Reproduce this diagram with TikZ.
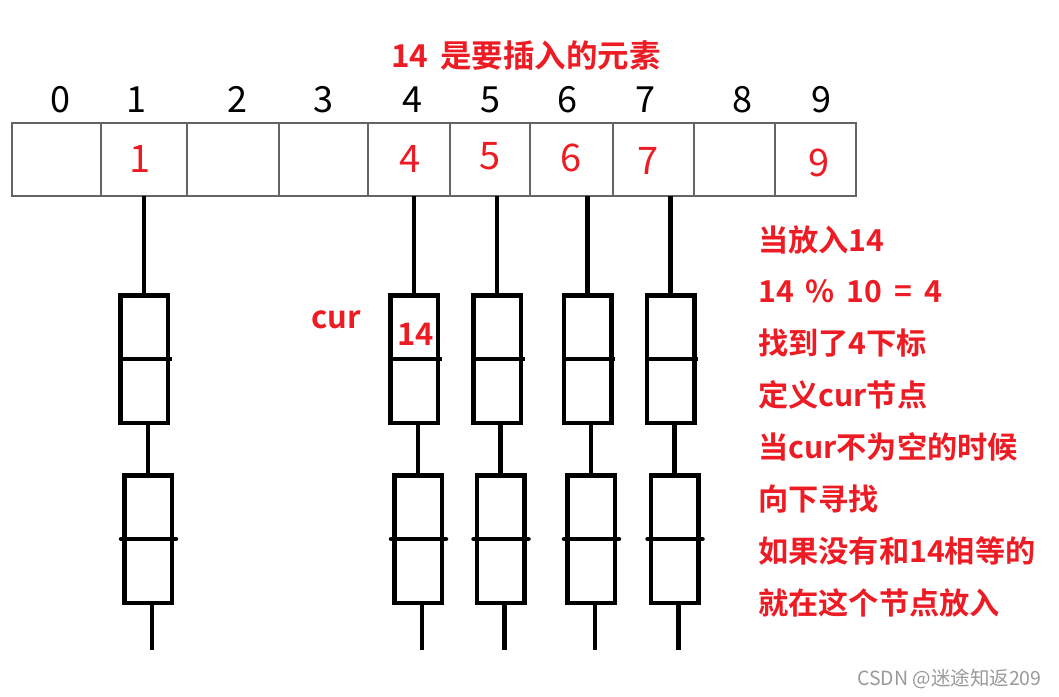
\documentclass[tikz,border=0pt]{standalone}
\usepackage{fontspec}
\setmainfont{Noto Sans CJK SC}[BoldFont={Noto Sans CJK SC Bold}]
\usetikzlibrary{positioning}
\definecolor{markred}{HTML}{ED1C24}
\definecolor{gridgrey}{HTML}{646464}
\definecolor{markgrey}{HTML}{9A9A9A}

\begin{document}
\begin{tikzpicture}[x=1pt, y=-1pt,
      cell/.style={draw=gridgrey, line width=1.3pt, minimum height=73pt,
        inner sep=0pt, outer sep=0pt},
      idx/.style={font=\fontsize{36}{36}\selectfont},
      val/.style={text=markred, font=\fontsize{38}{38}\selectfont},
      bucket/.style={draw, line width=4.5pt, minimum width=47.5pt,
        minimum height=127.5pt, inner sep=0pt},
      chain/.style={line width=4.5pt},
      note/.style={text=markred, font=\bfseries\fontsize{30.2}{30}\selectfont,
        inner sep=0pt, anchor=base west}
    ]
      \useasboundingbox (0,0) rectangle (1059,696);
      % hash table
      \node[cell, minimum width=89pt] (c0) at (56.5,159.5) {};
      \node[cell, minimum width=86pt, right=0pt of c0] (c1) {};
      \node[cell, minimum width=92pt, right=0pt of c1] (c2) {};
      \node[cell, minimum width=89pt, right=0pt of c2] (c3) {};
      \node[cell, minimum width=82pt, right=0pt of c3] (c4) {};
      \node[cell, minimum width=80pt, right=0pt of c4] (c5) {};
      \node[cell, minimum width=83pt, right=0pt of c5] (c6) {};
      \node[cell, minimum width=81pt, right=0pt of c6] (c7) {};
      \node[cell, minimum width=81pt, right=0pt of c7] (c8) {};
      \node[cell, minimum width=81pt, right=0pt of c8] (c9) {};
      \node[idx] (i0) at (60,99.5) {0};
      \node[idx] (i1) at (136,99.5) {1};
      \node[idx] (i2) at (237,99.5) {2};
      \node[idx] (i3) at (323,99.5) {3};
      \node[idx] (i4) at (412,99.5) {4};
      \node[idx] (i5) at (490,99.5) {5};
      \node[idx] (i6) at (567,99.5) {6};
      \node[idx] (i7) at (645,99.5) {7};
      \node[idx] (i8) at (742,99.5) {8};
      \node[idx] (i9) at (821,99.5) {9};
      \node[val] (v1) at (140,159) {1};
      \node[val] (v4) at (410,159) {4};
      \node[val] (v5) at (490,156.5) {5};
      \node[val] (v6) at (571,157.5) {6};
      \node[val] (v7) at (648,161) {7};
      \node[val] (v9) at (819,163) {9};
      \node[note, font=\bfseries\fontsize{31.5}{31}\selectfont] (title) at (391,67) {14\hspace{12pt}是要插入的元素};
      % buckets
      \node[bucket] (t1) at (144,359) {};
      \node[bucket] (t4) at (414,359) {};
      \node[bucket] (t5) at (497,359) {};
      \node[bucket] (t6) at (587.5,359) {};
      \node[bucket] (t7) at (670.5,359) {};
      \node[bucket, below=48pt of t1, xshift=4pt] (b1) {};
      \node[bucket, below=48pt of t4, xshift=4pt] (b4) {};
      \node[bucket, below=48pt of t5, xshift=3.5pt] (b5) {};
      \node[bucket, below=48pt of t6, xshift=3.5pt] (b6) {};
      \node[bucket, below=48pt of t7, xshift=4pt] (b7) {};
      \foreach \k in {1,4,5,6,7} {
        \draw[chain] (c\k.south -| t\k.north) -- (t\k.north);
        \draw[chain] (t\k.west) -- ([xshift=1.5pt]t\k.east);
        \draw[chain] (t\k.south -| b\k.north) -- (b\k.north);
        \draw[chain, line cap=round] ([xshift=-1pt]b\k.west) -- ([xshift=2pt]b\k.east);
        \draw[chain] ([xshift=4pt]b\k.south) -- ++(0,45);
      }
      \node[note, font=\bfseries\fontsize{31}{31}\selectfont] (cur) at (311,328) {cur};
      \node[note, font=\bfseries\fontsize{31}{31}\selectfont] (new) at (397,345) {14};
      % steps
      \node[note] (r1) at (758,251) {当放入14};
      \node[note] (r2) at ([yshift=-51.9pt]r1.base west) {14\hspace{12pt}\%\hspace{12pt}10\hspace{12pt}=\hspace{12pt}4};
      \node[note] (r3) at ([yshift=-51.9pt]r2.base west) {找到了4下标};
      \node[note] (r4) at ([yshift=-51.9pt]r3.base west) {定义cur节点};
      \node[note] (r5) at ([yshift=-51.9pt]r4.base west) {当cur不为空的时候};
      \node[note] (r6) at ([yshift=-51.9pt]r5.base west) {向下寻找};
      \node[note] (r7) at ([yshift=-51.9pt]r6.base west) {如果没有和14相等的};
      \node[note] (r8) at ([yshift=-51.9pt]r7.base west) {就在这个节点放入};
      \node[note, text=markgrey, font=\fontsize{19.5}{19}\selectfont] (mark) at (857,685) {CSDN @迷途知返209};
    \end{tikzpicture}
\end{document}
